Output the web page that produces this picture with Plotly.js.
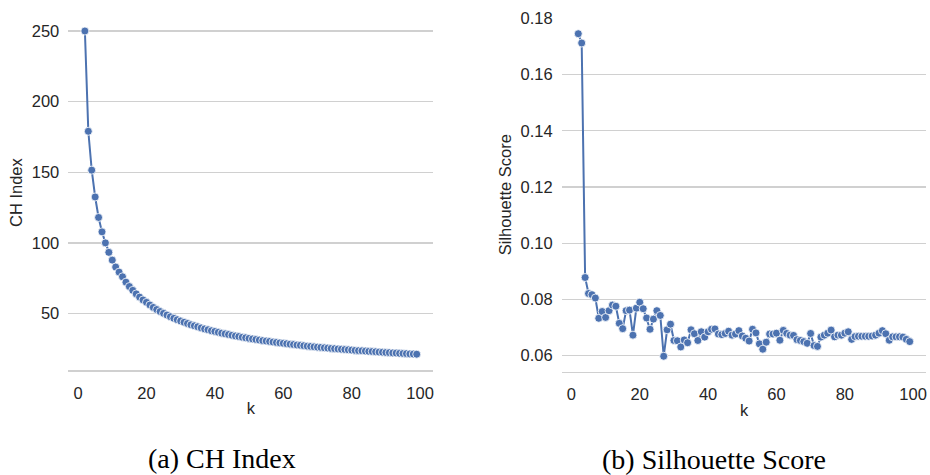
<!DOCTYPE html>
<html>
<head>
<meta charset="utf-8">
<script src="https://cdn.plot.ly/plotly-3.0.1.min.js"></script>
<style>html,body{margin:0;padding:0;background:#fff;}#chart{width:930px;height:475px;}</style>
</head>
<body>
<div id="chart"></div>
<script>
const kValues = [];
for (let k = 2; k <= 99; k++) kValues.push(k);

const chIndex = [
  250, 179, 151.5, 132.5, 118, 107.8, 100, 93.3, 87.8, 82.9, 79.3, 76.0,
  72.2, 69.1, 66.4, 63.9, 61.6, 59.6, 57.9, 56.0, 54.3, 52.8, 51.4, 50.1,
  48.9, 47.7, 46.6, 45.6, 44.7, 43.8, 42.9, 42.0, 41.3, 40.6, 39.8, 39.1,
  38.5, 37.8, 37.3, 36.7, 36.1, 35.6, 35.1, 34.6, 34.1, 33.7, 33.2, 32.8,
  32.4, 32.0, 31.6, 31.2, 30.8, 30.5, 30.2, 29.8, 29.5, 29.2, 28.9, 28.6,
  28.3, 28.0, 27.7, 27.5, 27.2, 26.9, 26.7, 26.4, 26.2, 26.0, 25.7, 25.5,
  25.3, 25.1, 24.9, 24.7, 24.5, 24.3, 24.1, 23.9, 23.7, 23.6, 23.4, 23.2,
  23.1, 22.9, 22.7, 22.6, 22.4, 22.3, 22.1, 22.0, 21.8, 21.7, 21.6, 21.4,
  21.3, 21.2
];

const silhouette = [
  0.1745, 0.1712, 0.0878, 0.0821, 0.0817, 0.0805, 0.0733, 0.0757, 0.0736, 0.0760,
  0.0780, 0.0776, 0.0715, 0.0696, 0.0760, 0.0762, 0.0673, 0.0769, 0.0790, 0.0767,
  0.0734, 0.0694, 0.0730, 0.0760, 0.0743, 0.0598, 0.0692, 0.0712, 0.0654, 0.0653,
  0.0631, 0.0656, 0.0646, 0.0692, 0.0678, 0.0654, 0.0685, 0.0666, 0.0685, 0.0694,
  0.0695, 0.0677, 0.0675, 0.0679, 0.0687, 0.0673, 0.0677, 0.0689, 0.0670, 0.0662,
  0.0652, 0.0694, 0.0681, 0.0642, 0.0623, 0.0648, 0.0677, 0.0677, 0.0680, 0.0655,
  0.0690, 0.0679, 0.0673, 0.0672, 0.0657, 0.0654, 0.0650, 0.0644, 0.0679, 0.0636,
  0.0633, 0.0666, 0.0673, 0.0680, 0.0691, 0.0667, 0.0673, 0.0673, 0.0680, 0.0685,
  0.0658, 0.0668, 0.0669, 0.0669, 0.0669, 0.0669, 0.0670, 0.0673, 0.0680, 0.0689,
  0.0678, 0.0655, 0.0667, 0.0667, 0.0667, 0.0666, 0.0658, 0.0650
];

const xTicks = [0, 20, 40, 60, 80, 100];
const chTicks = [50, 100, 150, 200, 250];
const silTicks = [0.06, 0.08, 0.10, 0.12, 0.14, 0.16, 0.18];
const captions = ["(a) CH Index", "(b) Silhouette Score"];
const axisTitles = {x: "k", yLeft: "CH Index", yRight: "Silhouette Score"};

const blue = "#4c72b0";
const grid = "#d0d0d0";
const txt = "#262626";
const tickFont = {family: "Liberation Sans, Arial, sans-serif", size: 16.5, color: txt};

const traceStyle = {
  type: "scatter", mode: "lines+markers",
  line: {color: blue, width: 2},
  marker: {color: blue, size: 8, line: {color: "#ffffff", width: 0.8}},
  hoverinfo: "x+y", showlegend: false
};

const data = [
  Object.assign({}, traceStyle, {x: kValues, y: chIndex, xaxis: "x", yaxis: "y"}),
  Object.assign({}, traceStyle, {x: kValues, y: silhouette, xaxis: "x2", yaxis: "y2"})
];

function xAxis(domain, anchor) {
  return {
    domain: domain, anchor: anchor, range: [-2.85, 103.85],
    tickvals: xTicks, ticktext: xTicks.map(String),
    showgrid: false, zeroline: false,
    showline: true, linecolor: grid, linewidth: 1.5,
    ticks: "", ticklabelstandoff: 7,
    tickfont: tickFont,
    title: {text: axisTitles.x, font: tickFont, standoff: 2},
    automargin: false, fixedrange: true
  };
}
function yAxis(domain, anchor, range, ticks, fmt, titleText) {
  return {
    domain: domain, anchor: anchor, range: range,
    tickvals: ticks, ticktext: ticks.map(v => fmt(v)),
    showgrid: true, gridcolor: grid, gridwidth: 1.3,
    zeroline: false, showline: false,
    ticks: "", ticklabelstandoff: 8,
    tickfont: tickFont,
    title: {text: titleText, font: tickFont, standoff: 4},
    automargin: false, fixedrange: true
  };
}

const layout = {
  width: 930, height: 475,
  margin: {l: 0, r: 0, t: 0, b: 0, pad: 0},
  paper_bgcolor: "#ffffff", plot_bgcolor: "#ffffff",
  showlegend: false,
  xaxis: xAxis([68.3 / 930, 433.3 / 930], "y"),
  yaxis: yAxis([1 - 370.3 / 475, 1 - 14.9 / 475], "x", [9.8, 261.4], chTicks, v => String(v), axisTitles.yLeft),
  xaxis2: xAxis([561.7 / 930, 926.3 / 930], "y2"),
  yaxis2: yAxis([1 - 371.7 / 475, 1 - 17.7 / 475], "x2", [0.0543, 0.1802], silTicks, v => v.toFixed(2), axisTitles.yRight),
  annotations: [
    {text: captions[0], xref: "paper", yref: "paper", x: 221.7 / 930, y: 1 - 458 / 475,
     xanchor: "center", yanchor: "middle", showarrow: false,
     font: {family: "Liberation Serif, Times New Roman, serif", size: 28, color: "#000"}},
    {text: captions[1], xref: "paper", yref: "paper", x: 714.2 / 930, y: 1 - 459 / 475,
     xanchor: "center", yanchor: "middle", showarrow: false,
     font: {family: "Liberation Serif, Times New Roman, serif", size: 28, color: "#000"}}
  ]
};

Plotly.newPlot("chart", data, layout, {displayModeBar: false, staticPlot: true});
</script>
</body>
</html>
